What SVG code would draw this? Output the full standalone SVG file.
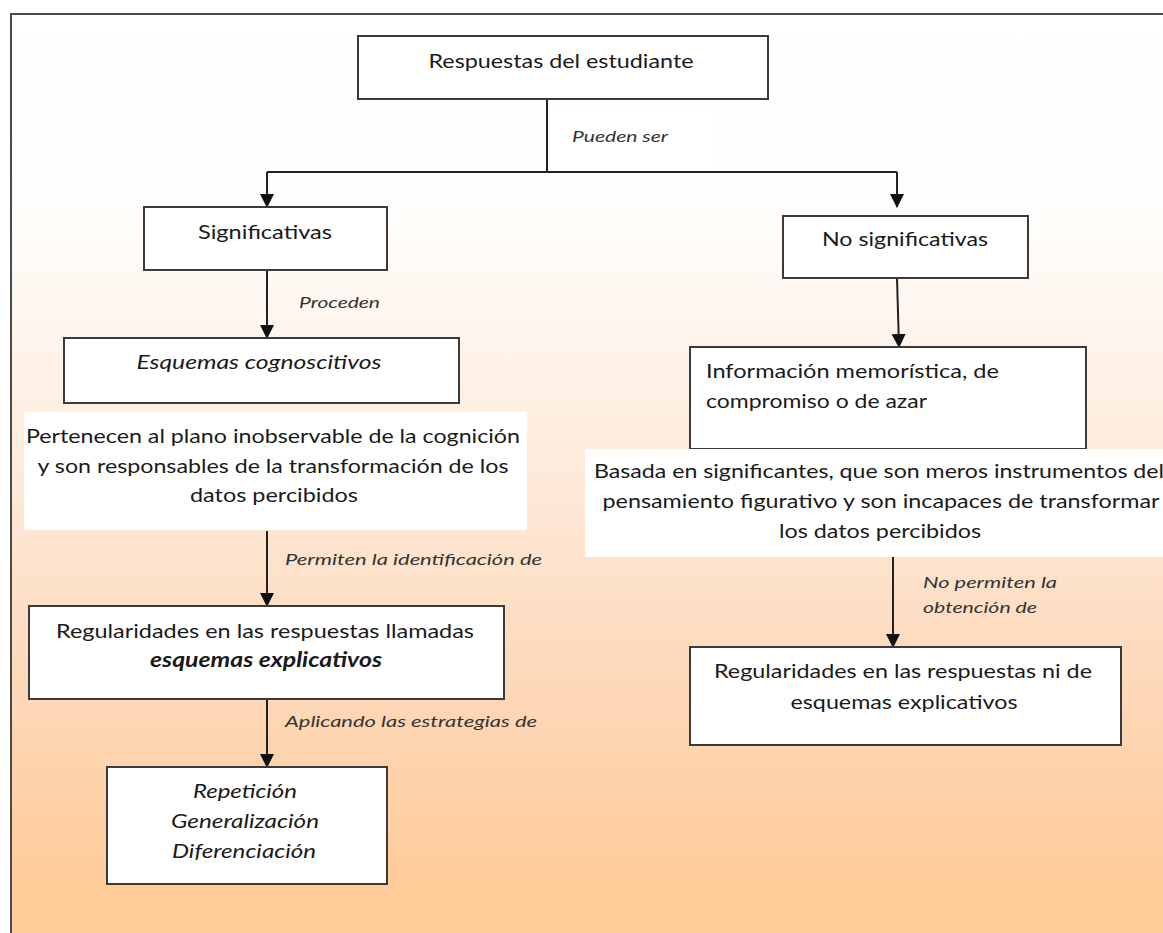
<svg xmlns="http://www.w3.org/2000/svg" width="1163" height="933" viewBox="0 0 1163 933">
  <defs>
    <linearGradient id="bgPeach" x1="0" y1="14" x2="0" y2="933" gradientUnits="userSpaceOnUse">
      <stop offset="0" stop-color="#ffffff"/>
      <stop offset="0.22" stop-color="#fffdfb"/>
      <stop offset="0.45" stop-color="#feeee1"/>
      <stop offset="0.7" stop-color="#fddabd"/>
      <stop offset="0.95" stop-color="#ffcb99"/>
      <stop offset="1" stop-color="#ffcb99"/>
    </linearGradient>
    <marker id="arrow" markerUnits="userSpaceOnUse" markerWidth="14" markerHeight="14" viewBox="0 0 14 14" refX="13" refY="7" orient="auto">
      <path d="M0,0 L14,7 L0,14 Z" fill="#111"/>
    </marker>
    <style>
      .box { fill: #ffffff; stroke: #3a3a3a; stroke-width: 2; }
      .note { fill: #ffffff; }
      .link { fill: none; stroke: #222; stroke-width: 2; }
      .txt { font-family: Lato, "Liberation Sans", sans-serif; font-size: 20px; fill: #1a1a1a; }
      .mid { text-anchor: middle; }
      .it { font-style: italic; }
      .lbl { font-family: Lato, "Liberation Sans", sans-serif; font-size: 16px; font-style: italic; fill: #333; }
    </style>
  </defs>

  <!-- background panel and frame -->
  <rect x="0" y="0" width="1163" height="933" fill="#ffffff"/>
  <rect x="11" y="14" width="1152" height="919" fill="url(#bgPeach)"/>
  <path d="M11,933 L11,14 L1163,14" fill="none" stroke="#4a4a4a" stroke-width="2"/>

  <!-- connectors -->
  <g id="connectors">
    <rect class="note" x="548" y="113" width="164" height="58"/>
    <path class="link" d="M547,99 L547,172"/>
    <path class="link" d="M267,172 L897,172"/>
    <path class="link" d="M267,172 L267,207" marker-end="url(#arrow)"/>
    <path class="link" d="M897,172 L897,207" marker-end="url(#arrow)"/>
    <path class="link" d="M267,270 L267,338" marker-end="url(#arrow)"/>
    <path class="link" d="M897,278 L899,347" marker-end="url(#arrow)"/>
    <path class="link" d="M267,531 L267,606" marker-end="url(#arrow)"/>
    <path class="link" d="M893,557 L893,647" marker-end="url(#arrow)"/>
    <path class="link" d="M267,699 L267,767" marker-end="url(#arrow)"/>
    <text class="lbl" x="572" y="142" textLength="96" lengthAdjust="spacingAndGlyphs">Pueden ser</text>
    <text class="lbl" x="299" y="308" textLength="81" lengthAdjust="spacingAndGlyphs">Proceden</text>
    <text class="lbl" x="285" y="565" textLength="257" lengthAdjust="spacingAndGlyphs">Permiten  la  identificación  de</text>
    <text class="lbl" x="285" y="727" textLength="252" lengthAdjust="spacingAndGlyphs">Aplicando las estrategias  de</text>
    <text class="lbl" x="923" y="588" textLength="134" lengthAdjust="spacingAndGlyphs">No permiten  la</text>
    <text class="lbl" x="923" y="613" textLength="114" lengthAdjust="spacingAndGlyphs">obtención de</text>
  </g>

  <g id="respuestas">
    <rect class="box" x="358" y="36" width="410" height="63"/>
    <text class="txt mid" x="561" y="68" textLength="265" lengthAdjust="spacingAndGlyphs">Respuestas del estudiante</text>
  </g>

  <g id="significativas">
    <rect class="box" x="144" y="207" width="243" height="63"/>
    <text class="txt mid" x="265" y="239" textLength="134" lengthAdjust="spacingAndGlyphs">Significativas</text>
  </g>

  <g id="no-significativas">
    <rect class="box" x="783" y="216" width="245" height="62"/>
    <text class="txt mid" x="905" y="246" textLength="166" lengthAdjust="spacingAndGlyphs">No significativas</text>
  </g>

  <g id="esquemas-cognoscitivos">
    <rect class="box" x="64" y="338" width="395" height="65"/>
    <text class="txt mid it" x="259" y="369" textLength="245" lengthAdjust="spacingAndGlyphs">Esquemas cognoscitivos</text>
  </g>

  <g id="plano-inobservable">
    <rect class="note" x="24" y="412" width="503" height="118"/>
    <text class="txt mid" x="273" y="443" textLength="494" lengthAdjust="spacingAndGlyphs">Pertenecen al plano inobservable de la cognición</text>
    <text class="txt mid" x="273" y="473" textLength="471" lengthAdjust="spacingAndGlyphs">y son responsables de la transformación de los</text>
    <text class="txt mid" x="274" y="502" textLength="168" lengthAdjust="spacingAndGlyphs">datos percibidos</text>
  </g>

  <g id="informacion-memoristica">
    <rect class="box" x="690" y="347" width="396" height="102"/>
    <text class="txt" x="706" y="378" textLength="293" lengthAdjust="spacingAndGlyphs">Información memorística, de</text>
    <text class="txt" x="706" y="408" textLength="221" lengthAdjust="spacingAndGlyphs">compromiso o de azar</text>
  </g>

  <g id="basada-significantes">
    <rect class="note" x="585" y="449" width="578" height="108"/>
    <text class="txt mid" x="879" y="478" textLength="570" lengthAdjust="spacingAndGlyphs">Basada en significantes, que son meros instrumentos del</text>
    <text class="txt mid" x="881" y="508" textLength="557" lengthAdjust="spacingAndGlyphs">pensamiento figurativo y son incapaces de transformar</text>
    <text class="txt mid" x="880" y="538" textLength="202" lengthAdjust="spacingAndGlyphs">los datos percibidos</text>
  </g>

  <g id="regularidades-llamadas">
    <rect class="box" x="29" y="606" width="475" height="93"/>
    <text class="txt mid" x="265" y="638" textLength="418" lengthAdjust="spacingAndGlyphs">Regularidades en las respuestas llamadas</text>
    <text class="txt mid it" x="266" y="667" font-weight="bold" textLength="232" lengthAdjust="spacingAndGlyphs">esquemas explicativos</text>
  </g>

  <g id="regularidades-ni">
    <rect class="box" x="690" y="647" width="431" height="98"/>
    <text class="txt mid" x="903" y="678" textLength="378" lengthAdjust="spacingAndGlyphs">Regularidades en las respuestas ni de</text>
    <text class="txt mid" x="904" y="709" textLength="227" lengthAdjust="spacingAndGlyphs">esquemas explicativos</text>
  </g>

  <g id="estrategias">
    <rect class="box" x="107" y="767" width="280" height="117"/>
    <text class="txt mid it" x="245" y="798" textLength="104" lengthAdjust="spacingAndGlyphs">Repetición</text>
    <text class="txt mid it" x="245" y="828" textLength="148" lengthAdjust="spacingAndGlyphs">Generalización</text>
    <text class="txt mid it" x="244" y="858" textLength="144" lengthAdjust="spacingAndGlyphs">Diferenciación</text>
  </g>
</svg>
